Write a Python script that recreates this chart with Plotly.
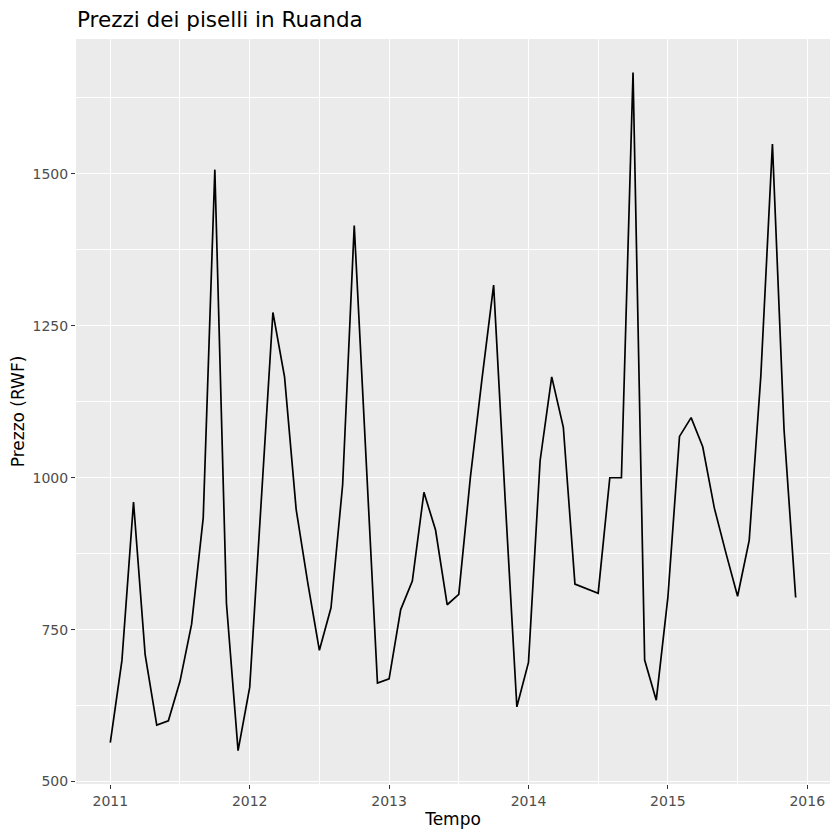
import plotly.graph_objects as go

# Prezzi mensili dei piselli in Ruanda (RWF), gennaio 2011 - dicembre 2015
anni = [2011, 2012, 2013, 2014, 2015]
mesi = list(range(1, 13))
prezzi = [
    564, 699, 960, 709, 593, 600, 665, 759, 934, 1507, 793, 551,   # 2011
    655, 961, 1272, 1166, 948, 827, 716, 786, 988, 1415, 1040, 662,  # 2012
    669, 783, 830, 976, 914, 791, 808, 1001, 1163, 1317, 962, 623,   # 2013
    696, 1028, 1166, 1083, 825, 818, 810, 1000, 1000, 1667, 700, 634,  # 2014
    803, 1068, 1099, 1051, 950, 876, 805, 897, 1167, 1549, 1079, 803,  # 2015
]
tempo = [a + (m - 1) / 12 for a in anni for m in mesi]

fig = go.Figure(go.Scatter(x=tempo, y=prezzi, mode="lines",
                           line=dict(color="black", width=1.7)))

asse = dict(showline=False, zeroline=False, gridcolor="white", gridwidth=1.2,
            ticks="outside", ticklen=4, tickcolor="#333333", tickwidth=1,
            tickfont=dict(size=14, color="#4d4d4d"),
            title_font=dict(size=17, color="black"))

fig.update_xaxes(asse, title_text="Tempo", range=[2010.754, 2016.163],
                 tickvals=[2011, 2012, 2013, 2014, 2015, 2016],
                 minor=dict(tick0=2010.5, dtick=1, showgrid=True,
                            gridcolor="white", gridwidth=0.6, ticks=""),
                 title_standoff=5)
fig.update_yaxes(asse, title_text="Prezzo (RWF)", range=[496, 1722],
                 tickvals=[500, 750, 1000, 1250, 1500],
                 minor=dict(tick0=500, dtick=125, showgrid=True,
                            gridcolor="white", gridwidth=0.6, ticks=""),
                 title_standoff=6)

fig.update_layout(
    width=824, height=824,
    font=dict(family="DejaVu Sans"),
    title=dict(text="Prezzi dei piselli in Ruanda", x=69 / 824, xanchor="left",
               y=1 - 11 / 824, yanchor="middle",
               font=dict(size=21.5, color="black")),
    plot_bgcolor="#ebebeb", paper_bgcolor="white",
    margin=dict(l=68, r=2, t=31, b=48),
    showlegend=False,
)

fig.write_html("out.html")
